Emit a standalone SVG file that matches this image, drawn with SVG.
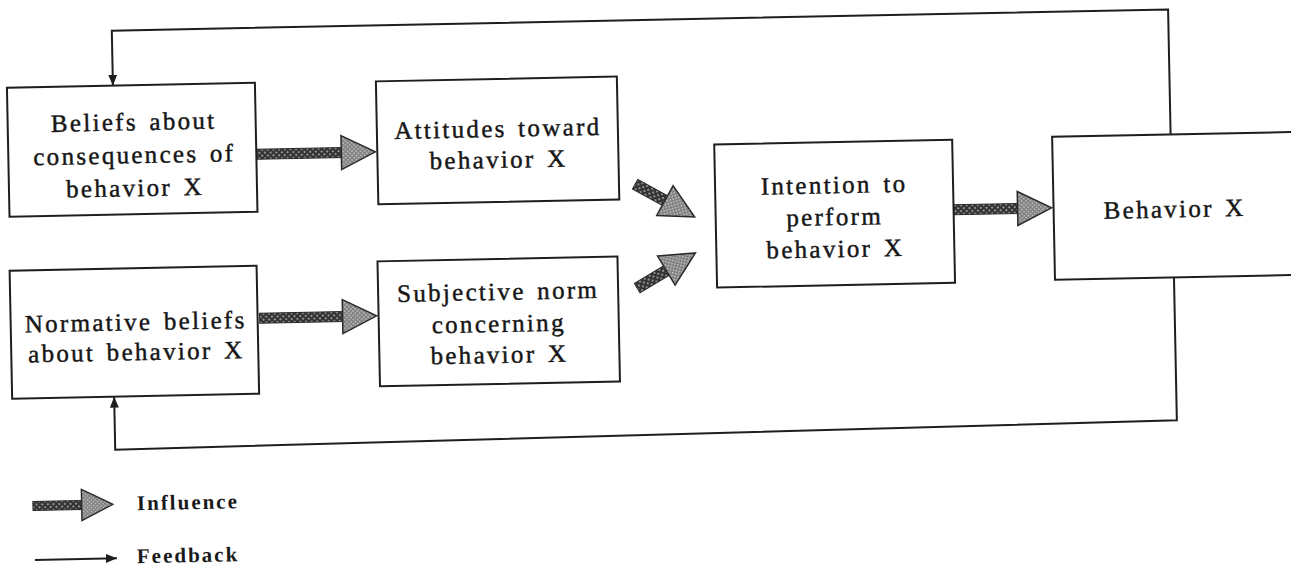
<svg xmlns="http://www.w3.org/2000/svg" width="1291" height="568" viewBox="0 0 1291 568">
  <style>
    .box { fill: #ffffff; stroke: #1e1e1e; stroke-width: 2; }
    .lbl { font-family: "Liberation Serif", "Times New Roman", serif; font-size: 25px; letter-spacing: 2.3px; word-spacing: 3px; fill: #161616; stroke: #161616; stroke-width: 0.45; text-anchor: middle; }
    .leg { font-family: "Liberation Serif", "Times New Roman", serif; font-size: 21px; font-weight: bold; letter-spacing: 2px; fill: #1a1a1a; }
    .fb { fill: none; stroke: #1e1e1e; stroke-width: 2; }
    .shaft { fill: url(#shaftPat); stroke: #2a2a2a; stroke-width: 1; }
    .head { fill: url(#headPat); stroke: #2a2a2a; stroke-width: 1.5; stroke-linejoin: miter; }
  </style>
  <defs>
    <pattern id="shaftPat" width="4" height="4" patternUnits="userSpaceOnUse" patternTransform="rotate(45)">
      <rect width="4" height="4" fill="#333333"/>
      <rect x="0" y="0" width="2" height="2" fill="#8f8f8f"/>
    </pattern>
    <pattern id="headPat" width="3" height="3" patternUnits="userSpaceOnUse" patternTransform="rotate(45)">
      <rect width="3" height="3" fill="#7e7e7e"/>
      <rect x="0" y="0" width="1.5" height="1.5" fill="#cccccc"/>
    </pattern>
    <path id="infHead" class="head" d="M-34,-17 L0,0 L-34,17 Z"/>
    <marker id="fbArrow" markerWidth="12" markerHeight="10" refX="11" refY="5" orient="auto" markerUnits="userSpaceOnUse">
      <path d="M0,0.5 L11,5 L0,9.5 Z" fill="#1e1e1e"/>
    </marker>
  </defs>
  <rect width="1291" height="568" fill="#ffffff"/>
  <g transform="rotate(-1.15 645 284)">
    <g id="connectors">
      <path class="fb" d="M1173.5,145 L1173.5,20 L117,20 L117,75" marker-end="url(#fbArrow)"/>
      <path class="fb" d="M1174,288 L1174,431 L112,439 L112,386" marker-end="url(#fbArrow)"/>
      <g id="inf-beliefs-attitudes" transform="translate(378,146.5)">
        <rect class="shaft" x="-118" y="-5" width="86" height="10"/>
        <use href="#infHead"/>
      </g>
      <g id="inf-normative-subjective" transform="translate(376,310.5)">
        <rect class="shaft" x="-117" y="-5" width="85" height="10"/>
        <use href="#infHead"/>
      </g>
      <g id="inf-attitudes-intention" transform="translate(696,218) rotate(30)">
        <rect class="shaft" x="-68" y="-5.5" width="36" height="11"/>
        <use href="#infHead"/>
      </g>
      <g id="inf-subjective-intention" transform="translate(696,254) rotate(-30)">
        <rect class="shaft" x="-68" y="-5.5" width="36" height="11"/>
        <use href="#infHead"/>
      </g>
      <g id="inf-intention-behavior" transform="translate(1053,216)">
        <rect class="shaft" x="-98" y="-5" width="66" height="10"/>
        <use href="#infHead"/>
      </g>
    </g>
    <g id="node-beliefs">
      <rect class="box" x="11" y="75" width="248" height="129"/>
      <text class="lbl" x="137" y="120">Beliefs about</text>
      <text class="lbl" x="137" y="153">consequences of</text>
      <text class="lbl" x="137" y="186">behavior X</text>
    </g>
    <g id="node-normative">
      <rect class="box" x="10" y="258" width="247" height="128"/>
      <text class="lbl" x="135" y="320">Normative beliefs</text>
      <text class="lbl" x="135" y="350">about behavior X</text>
    </g>
    <g id="node-attitudes">
      <rect class="box" x="380" y="76" width="241" height="123"/>
      <text class="lbl" x="501" y="134">Attitudes toward</text>
      <text class="lbl" x="501" y="165">behavior X</text>
    </g>
    <g id="node-subjective">
      <rect class="box" x="378" y="256" width="240" height="125"/>
      <text class="lbl" x="498" y="297">Subjective norm</text>
      <text class="lbl" x="498" y="329">concerning</text>
      <text class="lbl" x="498" y="360">behavior X</text>
    </g>
    <g id="node-intention">
      <rect class="box" x="717" y="146" width="238" height="143"/>
      <text class="lbl" x="836" y="197">Intention to</text>
      <text class="lbl" x="836" y="229">perform</text>
      <text class="lbl" x="836" y="261">behavior X</text>
    </g>
    <g id="node-behavior">
      <rect class="box" x="1055" y="145" width="250" height="143"/>
      <text class="lbl" x="1176" y="228">Behavior X</text>
    </g>
    <g id="legend">
      <g transform="translate(108.6,493.6)">
        <rect class="shaft" x="-80" y="-4.5" width="48" height="9"/>
        <use href="#infHead" transform="scale(0.92)"/>
      </g>
      <text class="leg" x="132.6" y="500">Influence</text>
      <path class="fb" d="M29.5,547.6 L111.5,547.6" marker-end="url(#fbArrow)"/>
      <text class="leg" x="131.5" y="553">Feedback</text>
    </g>
  </g>
</svg>
